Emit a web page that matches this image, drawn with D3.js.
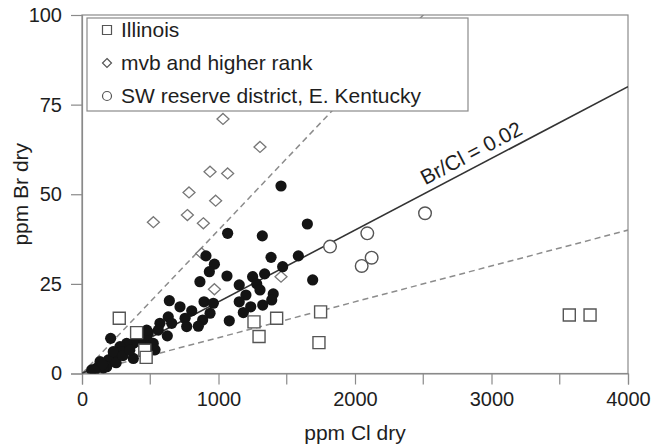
<!DOCTYPE html>
<html>
<head>
<meta charset="utf-8">
<script src="https://cdn.jsdelivr.net/npm/d3@7"></script>
<style>
  html, body { margin: 0; padding: 0; background: #fff; }
  svg { display: block; font-family: "Liberation Sans", Arial, sans-serif; }
</style>
</head>
<body>
<svg id="chart" width="653" height="447"></svg>
<script>
// Br vs Cl in coal, ppm on a dry basis: [Cl, Br]
const illinois = [
  [273, 15.4], [400, 11.4], [460, 6.5], [470, 4.5], [1260, 14.4], [1297, 10.3],
  [1426, 15.4], [1748, 17.2], [1736, 8.6], [3570, 16.3], [3722, 16.3]
];
const mvbHigherRank = [
  [523, 42.2], [772, 44.2], [784, 50.5], [877, 33.5], [889, 41.9], [938, 56.3],
  [979, 48.2], [970, 23.5], [1033, 71], [1067, 55.8], [1304, 63.2], [1458, 27]
];
const swReserve = [
  [1817, 35.4], [2090, 39.1], [2122, 32.3], [2049, 30], [2513, 44.7]
];
const eKentucky = [
  [1458, 52.3], [1651, 41.7], [1067, 39.1], [1321, 38.4], [1385, 32.4], [1585, 32.8],
  [1470, 29.8], [1690, 26.1], [908, 32.8], [970, 30.5], [933, 28.4], [864, 25.6],
  [1062, 27.2], [1250, 27], [1338, 27.8], [1152, 24.7], [1280, 25], [1304, 23.3],
  [1201, 21.9], [1401, 22.2], [1390, 20.5], [1152, 20], [1236, 18.6], [1324, 19.1],
  [1182, 17], [1079, 14.7], [894, 20], [962, 19.6], [938, 16.8], [884, 14.9],
  [852, 13.2], [804, 17.5], [755, 15.4], [767, 13.1], [718, 18.6], [640, 20.3],
  [632, 15.8], [657, 14], [625, 10.5], [571, 14], [559, 12.1], [486, 11.4],
  [474, 9.8], [522, 8.4], [535, 6.6], [462, 7.9], [425, 8.9], [376, 8.4],
  [327, 8.4], [278, 7.5], [291, 6.1], [210, 9.8], [376, 4.2], [229, 4.7],
  [193, 3.8], [181, 1.9], [132, 3.3], [108, 1.5], [71, 1], [156, 1.5],
  [229, 6.1], [474, 12.1], [250, 3], [300, 5], [350, 6.5], [150, 2.5], [90, 0.8]
];
// Br/Cl reference ratios
const ratioMain = 0.02;
const ratioGuides = [0.04, 0.01];

const xTicks = [0, 1000, 2000, 3000, 4000];
const xMinorTicks = [500, 1500, 2500, 3500];
const yTicks = [0, 25, 50, 75, 100];

const legendItems = [
  { label: "Illinois", shape: "square" },
  { label: "mvb and higher rank", shape: "diamond" },
  { label: "SW reserve district, E. Kentucky", shape: "circle" }
];

const svg = d3.select("#chart");
const x = d3.scaleLinear().domain([0, 4000]).range([82, 628]);
const y = d3.scaleLinear().domain([0, 100]).range([373.5, 15]);

const axisColor = "#8a8a8a";
const markStroke = "#555";
const textColor = "#1e1e1e";
const tickFont = 20;
const titleFont = 21;

svg.append("defs").append("clipPath").attr("id", "plot-clip")
  .append("rect")
  .attr("x", x(0)).attr("y", y(100))
  .attr("width", x(4000) - x(0)).attr("height", y(0) - y(100));

// plot frame
svg.append("rect")
  .attr("x", x(0)).attr("y", y(100))
  .attr("width", x(4000) - x(0)).attr("height", y(0) - y(100))
  .attr("fill", "none").attr("stroke", axisColor).attr("stroke-width", 1.2);

// axes
const xAxis = d3.axisBottom(x).tickValues(xTicks).tickSize(11).tickPadding(7).tickFormat(d3.format("d"));
const gx = svg.append("g").attr("transform", `translate(0,${y(0)})`).call(xAxis);
gx.selectAll(".minor").data(xMinorTicks).enter().append("line")
  .attr("class", "minor")
  .attr("x1", d => x(d)).attr("x2", d => x(d))
  .attr("y1", 0).attr("y2", 11);

const yAxis = d3.axisLeft(y).tickValues(yTicks).tickSize(11).tickPadding(9);
const gy = svg.append("g").attr("transform", `translate(${x(0)},0)`).call(yAxis);

[gx, gy].forEach(g => {
  g.select(".domain").attr("stroke", axisColor).attr("stroke-width", 1.2);
  g.selectAll("line").attr("stroke", axisColor).attr("stroke-width", 1.2);
  g.selectAll("text").attr("fill", textColor).attr("font-size", tickFont)
    .attr("font-family", "Liberation Sans, Arial, sans-serif");
});

svg.append("text")
  .attr("x", (x(0) + x(4000)) / 2).attr("y", 440)
  .attr("text-anchor", "middle").attr("fill", textColor).attr("font-size", titleFont)
  .text("ppm Cl dry");
svg.append("text")
  .attr("transform", `translate(28,${(y(0) + y(100)) / 2}) rotate(-90)`)
  .attr("text-anchor", "middle").attr("fill", textColor).attr("font-size", titleFont)
  .text("ppm Br dry");

// ratio lines
const plot = svg.append("g").attr("clip-path", "url(#plot-clip)");
const ratioLine = r => [[0, 0], [4000, 4000 * r]];
const line = d3.line().x(d => x(d[0])).y(d => y(d[1]));

ratioGuides.forEach(r => {
  plot.append("path").attr("d", line(ratioLine(r)))
    .attr("fill", "none").attr("stroke", "#8c8c8c")
    .attr("stroke-width", 1.5).attr("stroke-dasharray", "6,4");
});
plot.append("path").attr("d", line(ratioLine(ratioMain)))
  .attr("fill", "none").attr("stroke", "#333").attr("stroke-width", 1.6);

// label along the main ratio line
const labelCl = 2900;
const angle = Math.atan2(y(0) - y(100 * ratioMain), x(100) - x(0)) * 180 / Math.PI;
svg.append("text")
  .attr("transform", `translate(${x(labelCl)},${y(labelCl * ratioMain)}) rotate(${-angle}) translate(0,-7)`)
  .attr("text-anchor", "middle").attr("fill", textColor).attr("font-size", 21)
  .text(`Br/Cl = ${ratioMain}`);

// marker paths
const squarePath = s => `M${-s / 2},${-s / 2}h${s}v${s}h${-s}Z`;
const diamondPath = (w, h) => `M0,${-h / 2}L${w / 2},0L0,${h / 2}L${-w / 2},0Z`;

// mvb diamonds (behind the filled points)
plot.selectAll(".mvb").data(mvbHigherRank).enter().append("path")
  .attr("class", "mvb")
  .attr("transform", d => `translate(${x(d[0])},${y(d[1])})`)
  .attr("d", diamondPath(12, 11))
  .attr("fill", "#fff").attr("stroke", "#777").attr("stroke-width", 1.3);

// filled E. Kentucky points
plot.selectAll(".ek").data(eKentucky).enter().append("circle")
  .attr("class", "ek")
  .attr("cx", d => x(d[0])).attr("cy", d => y(d[1])).attr("r", 5.6)
  .attr("fill", "#141414");

// SW reserve district open circles
plot.selectAll(".sw").data(swReserve).enter().append("circle")
  .attr("class", "sw")
  .attr("cx", d => x(d[0])).attr("cy", d => y(d[1])).attr("r", 6.3)
  .attr("fill", "#fff").attr("stroke", markStroke).attr("stroke-width", 1.4);

// Illinois squares
plot.selectAll(".il").data(illinois).enter().append("path")
  .attr("class", "il")
  .attr("transform", d => `translate(${x(d[0])},${y(d[1])})`)
  .attr("d", squarePath(12))
  .attr("fill", "#fff").attr("stroke", markStroke).attr("stroke-width", 1.4);

// legend
const lg = svg.append("g");
lg.append("rect").attr("x", 87).attr("y", 18).attr("width", 381).attr("height", 93)
  .attr("fill", "#fff").attr("stroke", axisColor).attr("stroke-width", 1.2);
legendItems.forEach((item, i) => {
  const cy = 30 + i * 33;
  const g = lg.append("g").attr("transform", `translate(107,${cy})`);
  if (item.shape === "square") {
    g.append("path").attr("d", squarePath(9));
  } else if (item.shape === "diamond") {
    g.append("path").attr("d", diamondPath(9, 9));
  } else {
    g.append("circle").attr("r", 4.5);
  }
  g.selectAll("*").attr("fill", "#fff").attr("stroke", markStroke).attr("stroke-width", 1.2);
  lg.append("text").attr("x", 121).attr("y", cy + 7)
    .attr("fill", textColor).attr("font-size", 21)
    .text(item.label);
});
</script>
</body>
</html>
